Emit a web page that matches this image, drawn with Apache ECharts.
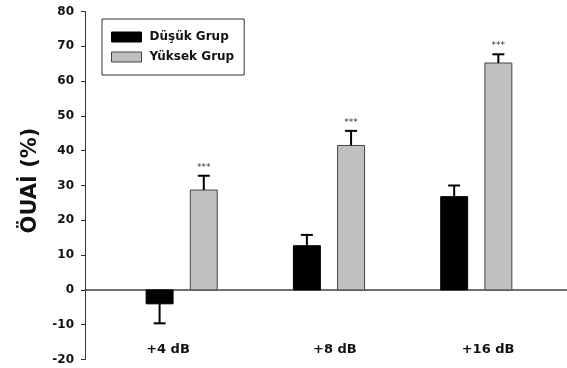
<!DOCTYPE html>
<html>
<head>
<meta charset="utf-8">
<script src="https://cdn.jsdelivr.net/npm/echarts@6/dist/echarts.min.js"></script>
<style>html,body{margin:0;padding:0;background:#fff;}#c{width:567px;height:368px;}</style>
</head>
<body>
<div id="c"></div>
<script>
const categories = ['+4 dB', '+8 dB', '+16 dB'];
const seriesNames = ['Düşük Grup', 'Yüksek Grup'];
const lowValues = [-4.0, 12.7, 26.8];
const lowErrors = [5.6, 3.1, 3.2];
const highValues = [28.7, 41.5, 65.2];
const highErrors = [4.1, 4.2, 2.5];
const highSignificance = ['***', '***', '***'];
const yMin = -20, yMax = 80, yInterval = 10;

// layout / style constants
const FONT = 'DejaVu Sans';
const BAR_W = 0.183;      // bar width in category units
const BAR_OFF = 0.15;     // offset of each bar from group centre
const LABEL_POS = [-0.093, 0.04, 0.08]; // category label anchor shift

const chart = echarts.init(document.getElementById('c'), null, {renderer: 'canvas'});

function makeRender(offset, fill, stroke, sigs) {
  return function (params, api) {
    const ci = api.value(0), v = api.value(1), e = api.value(2);
    const unit = api.size([1, 0])[0];
    const w = unit * BAR_W;
    const x = ci + offset;
    const top = api.coord([x, v]);
    const zero = api.coord([x, 0]);
    const errEnd = api.coord([x, v + (v < 0 ? -e : e)]);
    const children = [
      {
        type: 'rect',
        shape: {x: top[0] - w / 2, y: Math.min(top[1], zero[1]), width: w, height: Math.abs(zero[1] - top[1])},
        style: {fill: fill, stroke: stroke, lineWidth: 1}
      },
      {
        type: 'line',
        shape: {x1: top[0], y1: top[1], x2: errEnd[0], y2: errEnd[1]},
        style: {stroke: '#000', lineWidth: 2}
      },
      {
        type: 'line',
        shape: {x1: errEnd[0] - 6, y1: errEnd[1], x2: errEnd[0] + 6, y2: errEnd[1]},
        style: {stroke: '#000', lineWidth: 2}
      }
    ];
    if (sigs && sigs[params.dataIndex]) {
      children.push({
        type: 'text',
        style: {
          text: sigs[params.dataIndex], x: errEnd[0], y: errEnd[1] - 4,
          align: 'center', verticalAlign: 'bottom',
          font: '9px ' + FONT, fill: '#333'
        }
      });
    }
    return {type: 'group', children: children};
  };
}

const option = {
  backgroundColor: '#fff',
  animation: false,
  grid: {left: 85, right: 0, top: 11.5, bottom: 8.5, containLabel: false, outerBoundsMode: 'none'},
  legend: {
    orient: 'vertical',
    left: 102, top: 19,
    padding: [12, 10, 12, 9],
    itemWidth: 30, itemHeight: 10, itemGap: 8,
    icon: 'rect',
    borderColor: '#333', borderWidth: 1,
    textStyle: {fontFamily: FONT, fontWeight: 'bold', fontSize: 12, color: '#111', padding: [0, 0, 0, 3]},
    data: [
      {name: seriesNames[0], itemStyle: {color: '#000', borderColor: '#000', borderWidth: 1}},
      {name: seriesNames[1], itemStyle: {color: '#c0c0c0', borderColor: '#444', borderWidth: 1}}
    ]
  },
  xAxis: {
    type: 'value',
    min: -0.6565, max: 2.616,
    splitLine: {show: false},
    axisTick: {show: false},
    axisLine: {onZero: true, lineStyle: {color: '#444', width: 1.5}},
    axisLabel: {
      customValues: categories.map((c, i) => i + LABEL_POS[i]),
      formatter: function (v) { return categories[Math.round(v)] || ''; },
      margin: -16,
      fontFamily: FONT, fontWeight: 'bold', fontSize: 13, color: '#111'
    }
  },
  yAxis: {
    type: 'value',
    min: yMin, max: yMax, interval: yInterval,
    name: 'ÖUAİ (%)',
    nameLocation: 'middle',
    nameRotate: 90,
    nameGap: 43,
    nameTextStyle: {fontFamily: FONT, fontWeight: 'bold', fontSize: 21, color: '#111', padding: [0, 0, 0, 10]},
    splitLine: {show: false},
    axisLine: {show: true, onZero: false, lineStyle: {color: '#333', width: 1}},
    axisTick: {show: true, length: 4, lineStyle: {color: '#333'}},
    axisLabel: {margin: 11, fontFamily: FONT, fontWeight: 'bold', fontSize: 12, color: '#111'}
  },
  series: [
    {
      name: seriesNames[0], type: 'custom',
      itemStyle: {color: '#000'},
      encode: {x: 0, y: 1},
      data: categories.map((c, i) => [i, lowValues[i], lowErrors[i]]),
      renderItem: makeRender(-BAR_OFF, '#000', '#000', null)
    },
    {
      name: seriesNames[1], type: 'custom',
      itemStyle: {color: '#c0c0c0'},
      encode: {x: 0, y: 1},
      data: categories.map((c, i) => [i, highValues[i], highErrors[i]]),
      renderItem: makeRender(BAR_OFF, '#c0c0c0', '#444', highSignificance)
    }
  ]
};
chart.setOption(option);
</script>
</body>
</html>
